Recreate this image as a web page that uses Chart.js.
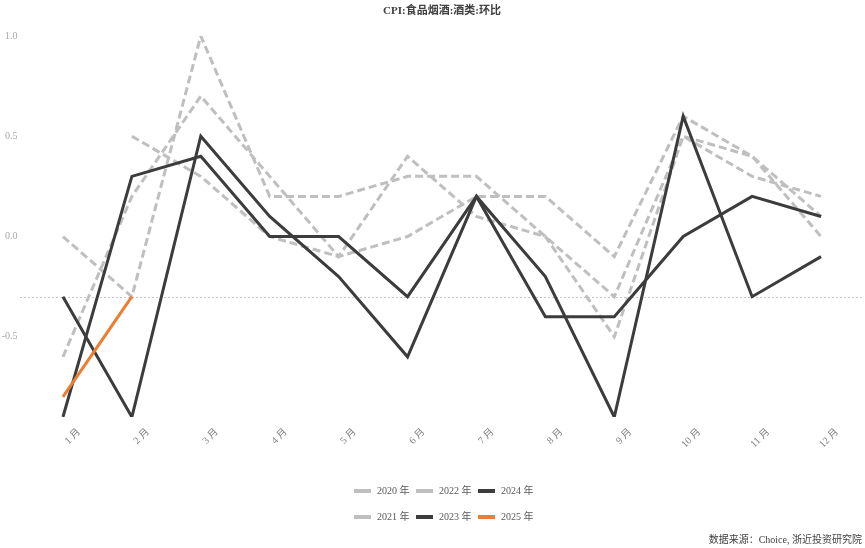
<!DOCTYPE html>
<html>
<head>
<meta charset="utf-8">
<script src="https://cdn.jsdelivr.net/npm/chart.js@4.4.1/dist/chart.umd.min.js"></script>
<style>
  html, body { margin: 0; padding: 0; background: #ffffff; }
  #wrap { width: 865px; height: 548px; }
</style>
</head>
<body>
<div id="wrap"><canvas id="chart" width="865" height="548"></canvas></div>
<script>
// Month-on-month change of the liquor component of CPI, by year (%)
const months = ['1 月', '2 月', '3 月', '4 月', '5 月', '6 月', '7 月', '8 月', '9 月', '10 月', '11 月', '12 月'];
const y2020 = [null, 0.5, 0.3, 0.0, -0.1, 0.0, 0.2, 0.2, -0.1, 0.6, 0.4, 0.0];
const y2021 = [0.0, -0.3, 1.0, 0.2, 0.2, 0.3, 0.3, 0.0, -0.3, 0.5, 0.4, 0.1];
const y2022 = [-0.6, 0.2, 0.7, 0.3, -0.1, 0.4, 0.1, 0.0, -0.5, 0.5, 0.3, 0.2];
const y2023 = [-0.3, -0.9, 0.5, 0.1, -0.2, -0.6, 0.2, -0.2, -0.9, 0.6, -0.3, -0.1];
const y2024 = [-0.9, 0.3, 0.4, 0.0, 0.0, -0.3, 0.2, -0.4, -0.4, 0.0, 0.2, 0.1];
const y2025 = [-0.8, -0.3];
const yTicks = [-0.5, 0.0, 0.5, 1.0];
const yMin = -0.9;
const yMax = 1.0;
const crossLine = -0.3;

const titleText = 'CPI:食品烟酒:酒类:环比';
const sourceText = '数据来源：Choice, 浙近投资研究院';
const legendRows = [['2020 年', '2022 年', '2024 年'], ['2021 年', '2023 年', '2025 年']];

const SERIF = "'Liberation Serif', 'Noto Sans CJK SC', serif";
const GREY = '#bfbfbf';
const DARK = '#3c3c3c';
const ORANGE = '#ed7d31';

function pastYear(label, values) {
  return { label, data: values, borderColor: GREY, backgroundColor: GREY, borderWidth: 3,
           borderDash: [8, 4], pointRadius: 0, tension: 0, order: 3, spanGaps: false };
}
function recentYear(label, values, color, order) {
  return { label, data: values, borderColor: color, backgroundColor: color, borderWidth: 3,
           pointRadius: 0, tension: 0, order };
}

// dotted horizontal rule where the category axis crosses
const crossRule = {
  id: 'crossRule',
  beforeDatasetsDraw(chart) {
    const { ctx, chartArea, scales } = chart;
    const y = Math.round(scales.y.getPixelForValue(crossLine)) + 0.5;
    ctx.save();
    ctx.strokeStyle = '#8c8c8c';
    ctx.lineWidth = 1;
    ctx.setLineDash([1, 3]);
    ctx.beginPath();
    ctx.moveTo(chartArea.left - 8, y);
    ctx.lineTo(chartArea.right + 7, y);
    ctx.stroke();
    ctx.restore();
  }
};

// two-row legend plus source note
const footer = {
  id: 'footer',
  afterDraw(chart) {
    const { ctx, chartArea } = chart;
    const sets = chart.data.datasets;
    ctx.save();
    ctx.font = '10px ' + SERIF;
    ctx.textBaseline = 'middle';
    const pitch = 62;
    const swatch = 17;
    const cols = legendRows[0].length;
    const left = (chartArea.left + chartArea.right) / 2 - (cols * pitch - 10) / 2;
    legendRows.forEach((row, r) => {
      const y = chartArea.bottom + 74 + r * 26;
      row.forEach((label, c) => {
        const ds = sets.find(d => d.label === label);
        const x = left + c * pitch;
        ctx.fillStyle = ds.borderColor;
        ctx.fillRect(x, y - 2, swatch, 4);
        ctx.fillStyle = '#595959';
        ctx.textAlign = 'left';
        ctx.fillText(label, x + swatch + 6, y);
      });
    });
    ctx.fillStyle = '#404040';
    ctx.textAlign = 'right';
    ctx.fillText(sourceText, chart.width - 3, chart.height - 8);
    ctx.restore();
  }
};

new Chart(document.getElementById('chart'), {
  type: 'line',
  data: {
    labels: months,
    datasets: [
      pastYear('2020 年', y2020),
      pastYear('2021 年', y2021),
      pastYear('2022 年', y2022),
      recentYear('2023 年', y2023, DARK, 2),
      recentYear('2024 年', y2024, DARK, 2),
      recentYear('2025 年', y2025, ORANGE, 1)
    ]
  },
  options: {
    responsive: false,
    animation: false,
    devicePixelRatio: 1,
    layout: { padding: { left: 0, right: 9.5, top: 0, bottom: 101 } },
    plugins: {
      legend: { display: false },
      tooltip: { enabled: false },
      title: {
        display: true, text: titleText, fullSize: false, color: '#404040',
        font: { family: SERIF, size: 11 }, padding: { top: 5, bottom: 17.8 }
      }
    },
    scales: {
      x: {
        offset: true,
        grid: { display: false, drawTicks: false },
        border: { display: false },
        ticks: {
          color: '#808080', font: { family: SERIF, size: 10 },
          minRotation: 45, maxRotation: 45, autoSkip: false, padding: 9, labelOffset: 16
        },
        afterFit(scale) { scale.height = 30; }
      },
      y: {
        min: yMin, max: yMax,
        grid: { display: false, drawTicks: false },
        border: { display: false },
        ticks: {
          color: '#a6a6a6', font: { family: SERIF, size: 10 }, padding: 11,
          callback: v => v.toFixed(1)
        },
        afterBuildTicks(scale) { scale.ticks = yTicks.map(v => ({ value: v })); },
        afterFit(scale) { scale.width = 28.5; }
      }
    }
  },
  plugins: [crossRule, footer]
});
</script>
</body>
</html>
